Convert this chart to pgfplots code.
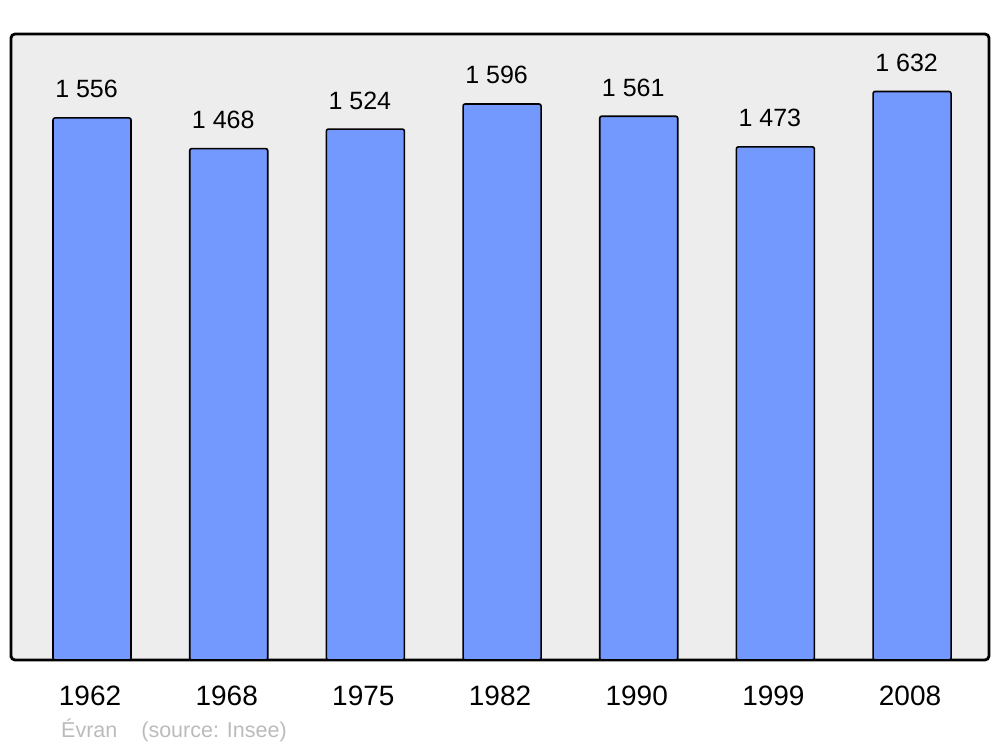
\documentclass[border=0pt]{standalone}
\usepackage{fontspec}
\setmainfont{Liberation Sans}
\usepackage{pgfplots}
\pgfplotsset{compat=1.18}
\definecolor{barblue}{HTML}{7399FF}
\definecolor{panel}{HTML}{EDEDED}
\definecolor{srcgray}{HTML}{BBBBBB}
\begin{document}
\begin{tikzpicture}[x=1pt,y=1pt]
\path[use as bounding box] (0,0) rectangle (1000,747);
\begin{axis}[
	at={(11pt,87pt)}, anchor=south west,
	scale only axis,
	width=978pt, height=626pt,
	xmin=-0.593, xmax=6.563,
	ymin=0, ymax=1797,
	ytick=\empty,
	xtick={0,1,2,3,4,5,6},
	xticklabels={1962,1968,1975,1982,1990,1999,2008},
	major tick length=0pt,
	xticklabel style={font=\fontsize{28}{31}\selectfont, inner sep=0pt, anchor=north, yshift=-26pt, xshift=-2pt},
	axis line style={line width=2.8pt, rounded corners=4pt},
	axis background/.style={fill=panel, rounded corners=4pt},
	ybar, bar width=78pt, bar shift=0pt,
	nodes near coords,
	nodes near coords style={font=\fontsize{25}{28}\selectfont, inner sep=0pt, anchor=south, yshift=19pt, xshift=-5.5pt,
		/pgf/number format/.cd, 1000 sep={\ }, assume math mode=true},
	clip=false,
]
\addplot[fill=barblue, draw=black, line width=1.6pt, rounded corners=2pt] coordinates {
	(0,1556) (1,1468) (2,1524) (3,1596) (4,1561) (5,1473) (6,1632)
};
\end{axis}
\node[anchor=base west, inner sep=0pt, text=srcgray, font=\fontsize{21.5}{24}\selectfont] at (61,10) {Évran\hspace{24pt}(source: Insee)};
\end{tikzpicture}
\end{document}
